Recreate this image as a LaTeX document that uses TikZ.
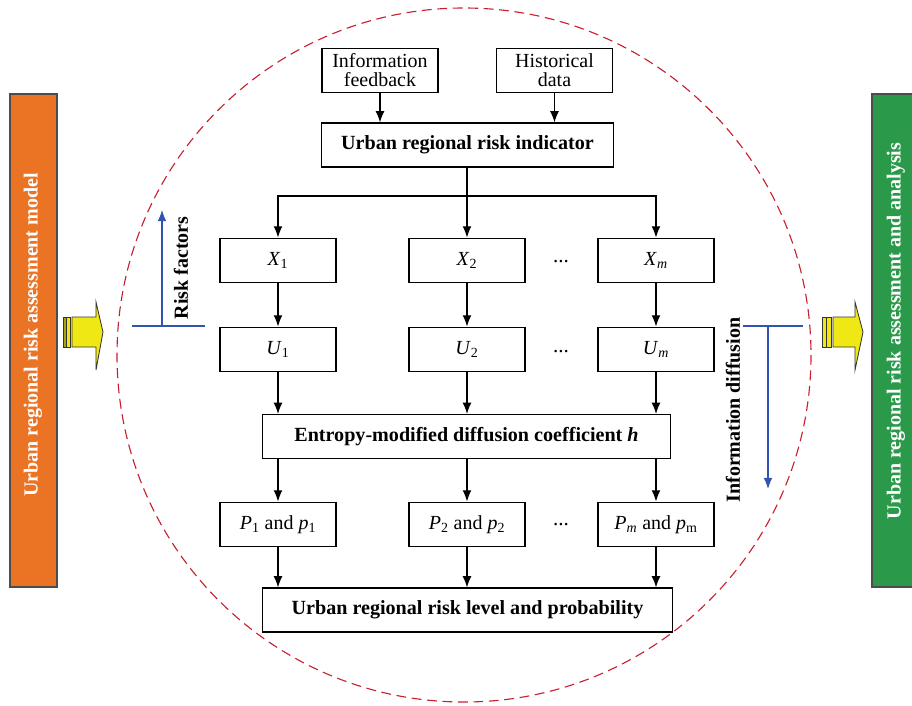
\documentclass[tikz,border=0pt]{standalone}
\usepackage{fontspec}
\setmainfont{Liberation Serif}
\usetikzlibrary{arrows.meta}
\definecolor{barorange}{RGB}{234,115,36}
\definecolor{bargreen}{RGB}{42,153,74}
\definecolor{dashred}{RGB}{200,32,48}
\definecolor{lineblue}{RGB}{48,84,176}
\definecolor{arrowyellow}{RGB}{240,232,20}
\newcommand{\ivar}[2]{\textit{#1}\textsubscript{#2}}

\begin{document}
\begin{tikzpicture}[x=0.025cm, y=-0.025cm]
        % ================= styles =================
        \tikzset{
            % plain process box
            box/.style={draw=black, thick, fill=white, align=center, inner sep=1pt,
                font=\fontsize{14.2}{13.5}\selectfont, minimum width=2.9cm, minimum height=1.12cm},
            % wide bold box
            widebox/.style={box, font=\fontsize{14.3}{16}\selectfont\bfseries, minimum height=1.1cm},
            % side bars
            sidebar/.style={draw=black!70, thick},
            bartext/.style={rotate=90, text=white, font=\fontsize{14.2}{16}\selectfont\bfseries},
            % connectors
            arr/.style={thick, black, -{Latex[length=2.8mm, width=2.2mm]}},
            blueline/.style={thick, lineblue},
            bluearr/.style={thick, lineblue, -{Latex[length=2.8mm, width=2.2mm]}},
            sidetext/.style={rotate=90, font=\fontsize{14.2}{16}\selectfont\bfseries},
            % fat yellow arrow
            fatarrow/.style={draw=black!80, semithick, fill=arrowyellow}
        }
        \useasboundingbox (0,0) rectangle (912,705);

        % ================= dashed circle =================
        \draw[dashred, thick, dash pattern=on 7pt off 4pt] (464,355) circle[radius=347];

        % ================= side bars =================
        \fill[barorange] (10,94) rectangle (57,587);
        \draw[sidebar] (10,94) rectangle (57,587);
        \node[bartext] (model) at (33,335) {Urban regional risk assessment model};

        \fill[bargreen] (872,94) rectangle (925,587);
        \draw[sidebar] (872,94) rectangle (925,587);
        \node[bartext] (analysis) at (896,331) {Urban regional risk assessment and analysis};

        % ================= yellow arrows =================
        \draw[fatarrow, fill=arrowyellow!70!black] (63,317) rectangle (66.5,347);
        \draw[fatarrow] (66.5,317) rectangle (70,347);
        \draw[fatarrow] (72,317) -- (96,317) -- (96,302) -- (103,332) -- (96,370) -- (96,347) -- (72,347) -- cycle;

        \draw[fatarrow] (822,317) rectangle (826.5,347);
        \draw[fatarrow] (826.5,317) rectangle (831,347);
        \draw[fatarrow] (833,317) -- (855,317) -- (855,302) -- (863,332) -- (855,370) -- (855,347) -- (833,347) -- cycle;

        % ================= inputs =================
        \node[box] (feedback) at (380,70.5) {Information\\feedback};
        \node[box] (history) at (554.5,70.5) {Historical\\data};
        \node[widebox, minimum width=7.28cm] (indicator) at (467.5,145) {Urban regional risk indicator};

        \draw[arr] (feedback) -- (feedback |- indicator.north);
        \draw[arr] (history) -- (history |- indicator.north);

        % ================= X row =================
        \node[box] (X1) at (278,260.5) {\ivar{X}{1}};
        \node[box] (X2) at (467,260.5) {\ivar{X}{2}};
        \node[box] (Xm) at (656,260.5) {\ivar{X}{\textit{m}}};
        \node[font=\fontsize{15}{16}\selectfont] (dotsX) at (561,262) {...};

        \coordinate (split) at (467,196);
        \draw[thick] (indicator.south -| split) -- (split);
        \draw[arr] (split) -| (X1.north);
        \draw[arr] (split) -- (X2.north);
        \draw[arr] (split) -| (Xm.north);

        % ================= U row =================
        \node[box] (U1) at (278,349.5) {\ivar{U}{1}};
        \node[box] (U2) at (467,349.5) {\ivar{U}{2}};
        \node[box] (Um) at (656,349.5) {\ivar{U}{\textit{m}}};
        \node[font=\fontsize{15}{16}\selectfont] (dotsU) at (561,352) {...};

        \foreach \i in {1,2,m} {
            \draw[arr] (X\i) -- (U\i);
        }

        % ================= entropy =================
        \node[widebox, minimum width=10.18cm] (entropy) at (466.5,436.5) {Entropy-modified diffusion coefficient \textit{h}};
        \foreach \i in {1,2,m} {
            \draw[arr] (U\i) -- (U\i |- entropy.north);
        }

        % ================= P row =================
        \node[box] (P1) at (278,524.5) {\ivar{P}{1} and \ivar{p}{1}};
        \node[box] (P2) at (467,524.5) {\ivar{P}{2} and \ivar{p}{2}};
        \node[box] (Pm) at (656,524.5) {\ivar{P}{\textit{m}} and \ivar{p}{m}};
        \node[font=\fontsize{15}{16}\selectfont] (dotsP) at (561,525) {...};

        \foreach \i in {1,2,m} {
            \draw[arr] (P\i |- entropy.south) -- (P\i);
        }

        % ================= output =================
        \node[widebox, minimum width=10.23cm] (level) at (467.5,610) {Urban regional risk level and probability};
        \foreach \i in {1,2,m} {
            \draw[arr] (P\i) -- (P\i |- level.north);
        }

        % ================= risk factors / information diffusion =================
        \coordinate (rfL) at (132,326);
        \coordinate (rfR) at (205,326);
        \coordinate (rfB) at (162,326);
        \coordinate (rfT) at (162,210);
        \draw[blueline] (rfL) -- (rfR);
        \draw[bluearr] (rfB) -- (rfT);
        \node[sidetext] (riskfactors) at (181,268) {Risk factors};

        \coordinate (idL) at (743,326);
        \coordinate (idR) at (803,326);
        \coordinate (idT) at (768,326);
        \coordinate (idB) at (768,489);
        \draw[blueline] (idL) -- (idR);
        \draw[bluearr] (idT) -- (idB);
        \node[sidetext] (diffusion) at (733,410) {Information diffusion};

    \end{tikzpicture}
\end{document}
